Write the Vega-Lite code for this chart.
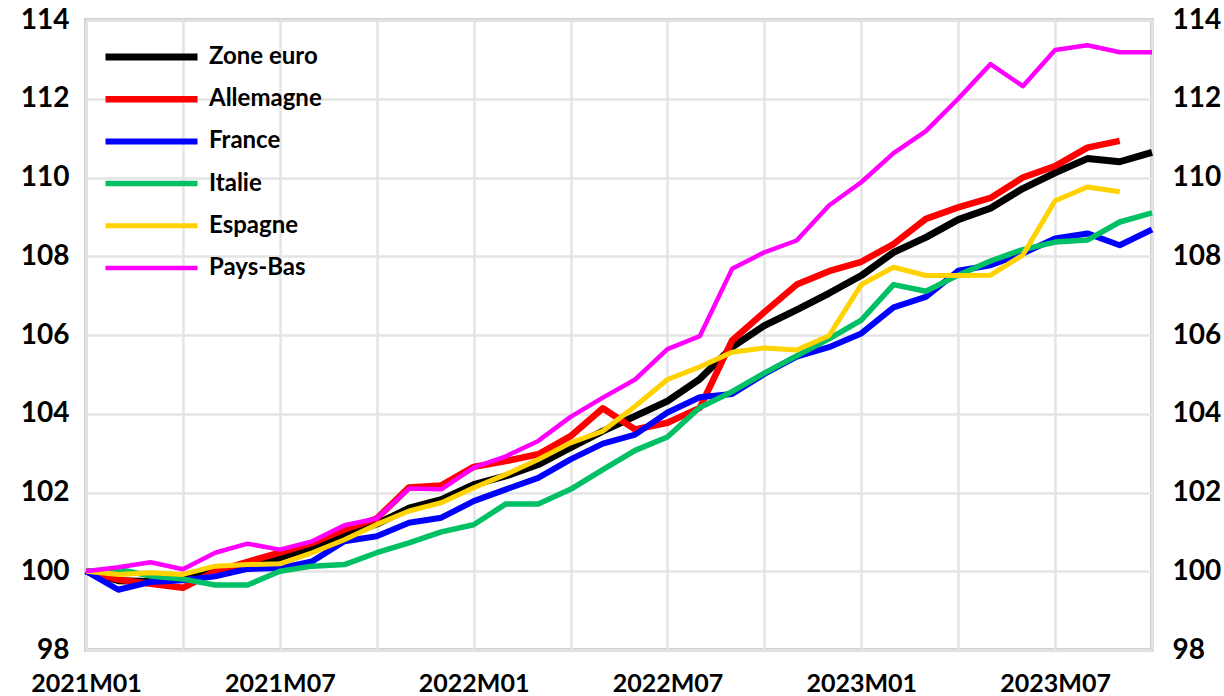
{
"$schema":"https://vega.github.io/schema/vega-lite/v6.json",
"width":1066,"height":630,
"autosize":{"type":"none"},
"padding":{"left":86,"top":20,"right":72,"bottom":46},
"background":"white",
"config":{"font":"Lato","view":{"stroke":"#D0D0D0","strokeWidth":4}},
"datasets":{"d":[
{"m":"2021M01","s":"Zone euro","v":100},{"m":"2021M02","s":"Zone euro","v":99.76},{"m":"2021M03","s":"Zone euro","v":99.74},{"m":"2021M04","s":"Zone euro","v":99.83},{"m":"2021M05","s":"Zone euro","v":100.04},{"m":"2021M06","s":"Zone euro","v":100.13},{"m":"2021M07","s":"Zone euro","v":100.34},{"m":"2021M08","s":"Zone euro","v":100.6},{"m":"2021M09","s":"Zone euro","v":100.93},{"m":"2021M10","s":"Zone euro","v":101.2},{"m":"2021M11","s":"Zone euro","v":101.6},{"m":"2021M12","s":"Zone euro","v":101.82},{"m":"2022M01","s":"Zone euro","v":102.2},{"m":"2022M02","s":"Zone euro","v":102.42},{"m":"2022M03","s":"Zone euro","v":102.71},{"m":"2022M04","s":"Zone euro","v":103.14},{"m":"2022M05","s":"Zone euro","v":103.56},{"m":"2022M06","s":"Zone euro","v":103.94},{"m":"2022M07","s":"Zone euro","v":104.32},{"m":"2022M08","s":"Zone euro","v":104.88},{"m":"2022M09","s":"Zone euro","v":105.69},{"m":"2022M10","s":"Zone euro","v":106.24},{"m":"2022M11","s":"Zone euro","v":106.64},{"m":"2022M12","s":"Zone euro","v":107.06},{"m":"2023M01","s":"Zone euro","v":107.51},{"m":"2023M02","s":"Zone euro","v":108.1},{"m":"2023M03","s":"Zone euro","v":108.48},{"m":"2023M04","s":"Zone euro","v":108.93},{"m":"2023M05","s":"Zone euro","v":109.22},{"m":"2023M06","s":"Zone euro","v":109.72},{"m":"2023M07","s":"Zone euro","v":110.12},{"m":"2023M08","s":"Zone euro","v":110.48},{"m":"2023M09","s":"Zone euro","v":110.4},{"m":"2023M10","s":"Zone euro","v":110.64},
{"m":"2021M01","s":"Allemagne","v":100},{"m":"2021M02","s":"Allemagne","v":99.79},{"m":"2021M03","s":"Allemagne","v":99.68},{"m":"2021M04","s":"Allemagne","v":99.58},{"m":"2021M05","s":"Allemagne","v":100.0},{"m":"2021M06","s":"Allemagne","v":100.24},{"m":"2021M07","s":"Allemagne","v":100.47},{"m":"2021M08","s":"Allemagne","v":100.72},{"m":"2021M09","s":"Allemagne","v":101.06},{"m":"2021M10","s":"Allemagne","v":101.34},{"m":"2021M11","s":"Allemagne","v":102.13},{"m":"2021M12","s":"Allemagne","v":102.18},{"m":"2022M01","s":"Allemagne","v":102.65},{"m":"2022M02","s":"Allemagne","v":102.8},{"m":"2022M03","s":"Allemagne","v":102.97},{"m":"2022M04","s":"Allemagne","v":103.43},{"m":"2022M05","s":"Allemagne","v":104.14},{"m":"2022M06","s":"Allemagne","v":103.6},{"m":"2022M07","s":"Allemagne","v":103.77},{"m":"2022M08","s":"Allemagne","v":104.15},{"m":"2022M09","s":"Allemagne","v":105.86},{"m":"2022M10","s":"Allemagne","v":106.58},{"m":"2022M11","s":"Allemagne","v":107.28},{"m":"2022M12","s":"Allemagne","v":107.62},{"m":"2023M01","s":"Allemagne","v":107.86},{"m":"2023M02","s":"Allemagne","v":108.31},{"m":"2023M03","s":"Allemagne","v":108.95},{"m":"2023M04","s":"Allemagne","v":109.24},{"m":"2023M05","s":"Allemagne","v":109.48},{"m":"2023M06","s":"Allemagne","v":110.0},{"m":"2023M07","s":"Allemagne","v":110.29},{"m":"2023M08","s":"Allemagne","v":110.76},{"m":"2023M09","s":"Allemagne","v":110.93},
{"m":"2021M01","s":"France","v":100},{"m":"2021M02","s":"France","v":99.53},{"m":"2021M03","s":"France","v":99.73},{"m":"2021M04","s":"France","v":99.77},{"m":"2021M05","s":"France","v":99.87},{"m":"2021M06","s":"France","v":100.06},{"m":"2021M07","s":"France","v":100.08},{"m":"2021M08","s":"France","v":100.25},{"m":"2021M09","s":"France","v":100.76},{"m":"2021M10","s":"France","v":100.89},{"m":"2021M11","s":"France","v":101.23},{"m":"2021M12","s":"France","v":101.36},{"m":"2022M01","s":"France","v":101.78},{"m":"2022M02","s":"France","v":102.08},{"m":"2022M03","s":"France","v":102.37},{"m":"2022M04","s":"France","v":102.84},{"m":"2022M05","s":"France","v":103.24},{"m":"2022M06","s":"France","v":103.47},{"m":"2022M07","s":"France","v":104.03},{"m":"2022M08","s":"France","v":104.42},{"m":"2022M09","s":"France","v":104.5},{"m":"2022M10","s":"France","v":105.01},{"m":"2022M11","s":"France","v":105.45},{"m":"2022M12","s":"France","v":105.69},{"m":"2023M01","s":"France","v":106.04},{"m":"2023M02","s":"France","v":106.7},{"m":"2023M03","s":"France","v":106.97},{"m":"2023M04","s":"France","v":107.63},{"m":"2023M05","s":"France","v":107.77},{"m":"2023M06","s":"France","v":108.07},{"m":"2023M07","s":"France","v":108.45},{"m":"2023M08","s":"France","v":108.58},{"m":"2023M09","s":"France","v":108.28},{"m":"2023M10","s":"France","v":108.68},
{"m":"2021M01","s":"Italie","v":100},{"m":"2021M02","s":"Italie","v":100.05},{"m":"2021M03","s":"Italie","v":99.88},{"m":"2021M04","s":"Italie","v":99.8},{"m":"2021M05","s":"Italie","v":99.65},{"m":"2021M06","s":"Italie","v":99.65},{"m":"2021M07","s":"Italie","v":100.0},{"m":"2021M08","s":"Italie","v":100.13},{"m":"2021M09","s":"Italie","v":100.17},{"m":"2021M10","s":"Italie","v":100.47},{"m":"2021M11","s":"Italie","v":100.72},{"m":"2021M12","s":"Italie","v":101.0},{"m":"2022M01","s":"Italie","v":101.18},{"m":"2022M02","s":"Italie","v":101.71},{"m":"2022M03","s":"Italie","v":101.71},{"m":"2022M04","s":"Italie","v":102.08},{"m":"2022M05","s":"Italie","v":102.58},{"m":"2022M06","s":"Italie","v":103.07},{"m":"2022M07","s":"Italie","v":103.41},{"m":"2022M08","s":"Italie","v":104.16},{"m":"2022M09","s":"Italie","v":104.56},{"m":"2022M10","s":"Italie","v":105.03},{"m":"2022M11","s":"Italie","v":105.47},{"m":"2022M12","s":"Italie","v":105.9},{"m":"2023M01","s":"Italie","v":106.38},{"m":"2023M02","s":"Italie","v":107.28},{"m":"2023M03","s":"Italie","v":107.11},{"m":"2023M04","s":"Italie","v":107.52},{"m":"2023M05","s":"Italie","v":107.88},{"m":"2023M06","s":"Italie","v":108.17},{"m":"2023M07","s":"Italie","v":108.36},{"m":"2023M08","s":"Italie","v":108.41},{"m":"2023M09","s":"Italie","v":108.87},{"m":"2023M10","s":"Italie","v":109.1},
{"m":"2021M01","s":"Espagne","v":100},{"m":"2021M02","s":"Espagne","v":99.92},{"m":"2021M03","s":"Espagne","v":99.96},{"m":"2021M04","s":"Espagne","v":99.92},{"m":"2021M05","s":"Espagne","v":100.13},{"m":"2021M06","s":"Espagne","v":100.17},{"m":"2021M07","s":"Espagne","v":100.19},{"m":"2021M08","s":"Espagne","v":100.47},{"m":"2021M09","s":"Espagne","v":100.8},{"m":"2021M10","s":"Espagne","v":101.19},{"m":"2021M11","s":"Espagne","v":101.53},{"m":"2021M12","s":"Espagne","v":101.74},{"m":"2022M01","s":"Espagne","v":102.12},{"m":"2022M02","s":"Espagne","v":102.46},{"m":"2022M03","s":"Espagne","v":102.84},{"m":"2022M04","s":"Espagne","v":103.26},{"m":"2022M05","s":"Espagne","v":103.56},{"m":"2022M06","s":"Espagne","v":104.19},{"m":"2022M07","s":"Espagne","v":104.87},{"m":"2022M08","s":"Espagne","v":105.19},{"m":"2022M09","s":"Espagne","v":105.56},{"m":"2022M10","s":"Espagne","v":105.67},{"m":"2022M11","s":"Espagne","v":105.62},{"m":"2022M12","s":"Espagne","v":105.98},{"m":"2023M01","s":"Espagne","v":107.28},{"m":"2023M02","s":"Espagne","v":107.72},{"m":"2023M03","s":"Espagne","v":107.51},{"m":"2023M04","s":"Espagne","v":107.51},{"m":"2023M05","s":"Espagne","v":107.52},{"m":"2023M06","s":"Espagne","v":108.03},{"m":"2023M07","s":"Espagne","v":109.41},{"m":"2023M08","s":"Espagne","v":109.76},{"m":"2023M09","s":"Espagne","v":109.64},
{"m":"2021M01","s":"Pays-Bas","v":100},{"m":"2021M02","s":"Pays-Bas","v":100.1},{"m":"2021M03","s":"Pays-Bas","v":100.23},{"m":"2021M04","s":"Pays-Bas","v":100.05},{"m":"2021M05","s":"Pays-Bas","v":100.47},{"m":"2021M06","s":"Pays-Bas","v":100.7},{"m":"2021M07","s":"Pays-Bas","v":100.55},{"m":"2021M08","s":"Pays-Bas","v":100.76},{"m":"2021M09","s":"Pays-Bas","v":101.17},{"m":"2021M10","s":"Pays-Bas","v":101.34},{"m":"2021M11","s":"Pays-Bas","v":102.1},{"m":"2021M12","s":"Pays-Bas","v":102.08},{"m":"2022M01","s":"Pays-Bas","v":102.63},{"m":"2022M02","s":"Pays-Bas","v":102.92},{"m":"2022M03","s":"Pays-Bas","v":103.31},{"m":"2022M04","s":"Pays-Bas","v":103.92},{"m":"2022M05","s":"Pays-Bas","v":104.41},{"m":"2022M06","s":"Pays-Bas","v":104.87},{"m":"2022M07","s":"Pays-Bas","v":105.64},{"m":"2022M08","s":"Pays-Bas","v":105.97},{"m":"2022M09","s":"Pays-Bas","v":107.68},{"m":"2022M10","s":"Pays-Bas","v":108.1},{"m":"2022M11","s":"Pays-Bas","v":108.4},{"m":"2022M12","s":"Pays-Bas","v":109.29},{"m":"2023M01","s":"Pays-Bas","v":109.88},{"m":"2023M02","s":"Pays-Bas","v":110.62},{"m":"2023M03","s":"Pays-Bas","v":111.18},{"m":"2023M04","s":"Pays-Bas","v":112.0},{"m":"2023M05","s":"Pays-Bas","v":112.88},{"m":"2023M06","s":"Pays-Bas","v":112.32},{"m":"2023M07","s":"Pays-Bas","v":113.24},{"m":"2023M08","s":"Pays-Bas","v":113.36},{"m":"2023M09","s":"Pays-Bas","v":113.18},{"m":"2023M10","s":"Pays-Bas","v":113.18}
]},
"data":{"name":"d"},
"layer":[
{"mark":{"type":"line","strokeJoin":"round","strokeCap":"butt"},
"encoding":{
"x":{"field":"m","type":"ordinal","sort":"ascending","scale":{"type":"point","padding":0},
"axis":{"title":null,"values":["2021M01","2021M04","2021M07","2021M10","2022M01","2022M04","2022M07","2022M10","2023M01","2023M04","2023M07","2023M10"],
"labelExpr":"indexof(datum.value,'M01')>=0 || indexof(datum.value,'M07')>=0 ? datum.value : ''",
"labelAngle":0,"labelFontSize":25,"labelFontWeight":"bold","labelColor":"#000000","labelPadding":21,"domain":false,"ticks":false,"grid":true,"gridColor":"#E4E4E4","gridWidth":2.5}},
"y":{"field":"v","type":"quantitative","scale":{"domain":[98,114],"zero":false,"nice":false},
"axis":{"title":null,"values":[98,100,102,104,106,108,110,112,114],"labelFontSize":28,"labelFontWeight":"bold","labelColor":"#000000","labelPadding":17,"domain":false,"ticks":false,"grid":true,"gridColor":"#E4E4E4","gridWidth":2.5}},
"color":{"field":"s","type":"nominal","scale":{"domain":["Zone euro","Allemagne","France","Italie","Espagne","Pays-Bas"],"range":["#000000","#FF0000","#0000FF","#00C065","#FFD200","#FF00FF"]},
"legend":{"title":null,"orient":"none","legendX":16,"legendY":16,"symbolType":"stroke","symbolSize":8464,"clipHeight":42,"labelFontSize":24,"labelFontWeight":"bold","labelColor":"#000000","labelOffset":8,"rowPadding":0.2}},
"strokeWidth":{"field":"s","type":"nominal","scale":{"domain":["Zone euro","Allemagne","France","Italie","Espagne","Pays-Bas"],"range":[7,4.5,4.5,4.5,4.5,4.5]},
"legend":{"title":null,"orient":"none","legendX":16,"legendY":16,"symbolType":"stroke","symbolSize":8464,"clipHeight":42,"labelFontSize":24,"labelFontWeight":"bold","labelColor":"#000000","labelOffset":8,"rowPadding":0.2}}
}},
{"mark":{"type":"point","opacity":0},
"encoding":{
"y":{"field":"v","type":"quantitative","scale":{"domain":[98,114],"zero":false,"nice":false},
"axis":{"orient":"right","title":null,"values":[98,100,102,104,106,108,110,112,114],"labelFontSize":28,"labelFontWeight":"bold","labelColor":"#000000","labelPadding":20,"domain":false,"ticks":false,"grid":false}}
}}
],
"resolve":{"axis":{"y":"independent"}}
}
